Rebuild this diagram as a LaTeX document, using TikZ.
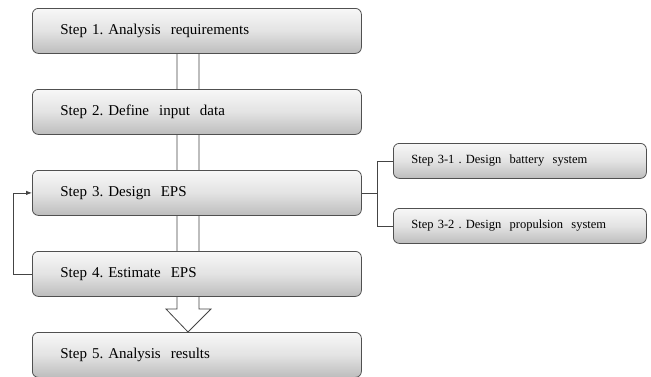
\documentclass[tikz,border=0pt]{standalone}
\usepackage{fontspec}
\setmainfont{Liberation Serif}
\usetikzlibrary{arrows.meta,calc}
\definecolor{edge}{HTML}{505050}
\definecolor{pipe}{HTML}{444444}
\tikzset{
  mainbox/.style={draw=edge, line width=0.8pt, rounded corners=6pt,
    top color=gray!6, bottom color=gray!52, middle color=gray!22,
    minimum width=329pt, minimum height=45pt, text width=273pt,
    inner xsep=28pt, align=left, anchor=north west,
    font=\fontsize{15}{17}\selectfont},
  subbox/.style={draw=edge, line width=0.8pt, rounded corners=6pt,
    top color=gray!6, bottom color=gray!52, middle color=gray!22,
    minimum width=253pt, minimum height=35pt, text width=217pt,
    inner xsep=18pt, align=left, anchor=north west,
    font=\fontsize{12.5}{14}\selectfont},
  conn/.style={draw=pipe, line width=0.8pt},
}
\begin{document}
\begin{tikzpicture}[x=1pt,y=-1pt]
\useasboundingbox (0,0) rectangle (651,376);
% hollow block arrow behind the boxes
\coordinate (pl) at (177,53);
\coordinate (pr) at (199,53);
\path[conn, fill=white] (pl) -- (177,309) -- (166,309) -- (188,332) -- (211,309) -- (199,309) -- (pr);
% main steps
\node[mainbox] (s1) at (32,8)   {Step 1.~Analysis~~requirements};
\node[mainbox] (s2) at (32,89)  {Step 2.~Define~~input~~data};
\node[mainbox] (s3) at (32,170) {Step 3.~Design~~EPS};
\node[mainbox] (s4) at (32,251) {Step 4.~Estimate~~EPS};
\node[mainbox] (s5) at (32,332) {Step 5.~Analysis~~results};
% sub steps
\node[subbox] (s31) at (393,143) {Step 3-1~.~Design~~battery~~system};
\node[subbox] (s32) at (393,208) {Step 3-2~.~Design~~propulsion~~system};
% branch to sub steps
\draw[conn] (s3.east) -- ++(16,0) coordinate (j);
\draw[conn] (j) |- (s31.west);
\draw[conn] (j) |- (s32.west);
% feedback loop
\draw[conn, -{Latex[length=6pt,width=4.5pt]}] (s4.west) -- (13,0 |- s4.west) |- (s3.west);
\end{tikzpicture}
\end{document}
